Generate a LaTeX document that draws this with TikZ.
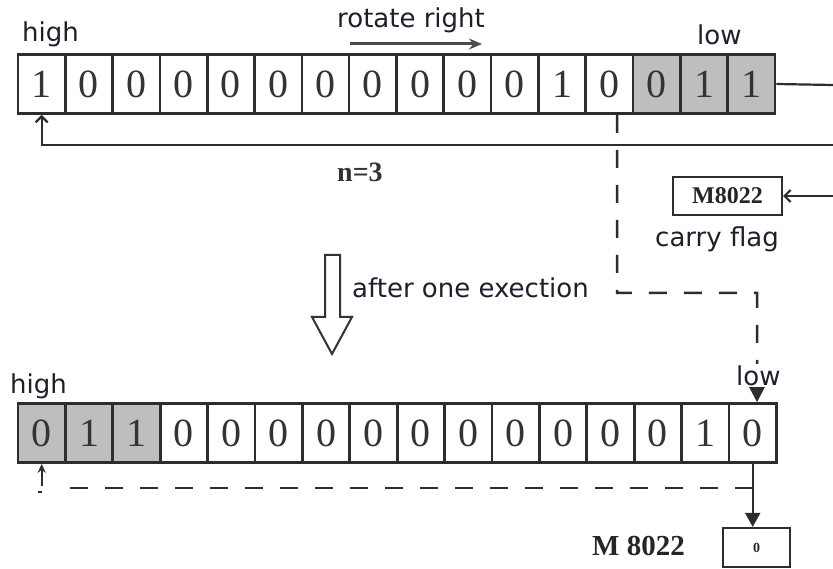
\documentclass[tikz,border=0pt]{standalone}
\usepackage{fontspec}
\setmainfont{Liberation Serif}
\newfontfamily\lblfont{DejaVu Sans}
\usetikzlibrary{arrows.meta,calc}
\definecolor{lblc}{RGB}{30,30,45}
\definecolor{linec}{RGB}{45,45,45}
\definecolor{grayc}{RGB}{190,190,190}
\begin{document}
\begin{tikzpicture}[x=1pt,y=-1pt,
  cell/.style={draw=linec, line width=2.6pt, minimum width=47.35pt, minimum height=59pt,
    inner sep=0pt, font=\fontsize{40}{40}\selectfont, text=black!80},
  lbl/.style={font=\lblfont\fontsize{26}{30}\selectfont, text=lblc, inner sep=0pt, anchor=base west},
  conn/.style={line width=2.2pt, draw=linec},
  dsh/.style={line width=2.5pt, draw=linec, dash pattern=on 18pt off 17pt},
  flagbox/.style={draw=linec, line width=2.2pt, inner sep=0pt, text=black!85},
]
\useasboundingbox (0,0) rectangle (833,569);

% top register
\foreach \d/\s [count=\i from 0] in {1/white,0/white,0/white,0/white,0/white,0/white,0/white,0/white,0/white,0/white,0/white,1/white,0/white,0/grayc,1/grayc,1/grayc}
  \node[cell, fill=\s] (t\i) at ({18+47.3125*(\i+0.5)},84) {\d};

% bottom register
\foreach \d/\s [count=\i from 0] in {0/grayc,1/grayc,1/grayc,0/white,0/white,0/white,0/white,0/white,0/white,0/white,0/white,0/white,0/white,0/white,1/white,0/white}
  \node[cell, fill=\s] (b\i) at ({18+47.4*(\i+0.5)},433) {\d};

% labels
\node[lbl] (hi1) at (22,42) {high};
\node[lbl] (rot) at (337,28) {rotate right};
\node[lbl] (lo1) at (697,45) {low};
\node[lbl] (hi2) at (10,393) {high};
\node[lbl] (cf) at (655,247) {carry flag};
\node[lbl] (aft) at (352,298) {after one exection};
\node[font=\bfseries\fontsize{28}{28}\selectfont, anchor=base west, inner sep=0pt, text=black!80] (n3) at (337,182) {n=3};
\node[font=\bfseries\fontsize{29}{29}\selectfont, anchor=base west, inner sep=0pt, text=black!85] (m2l) at (592,555) {M 8022};

% rotate right arrow
\coordinate (rr1) at (350,44);
\coordinate (rr2) at (482,44);
\draw[line width=3pt, draw=black!70, -{Stealth[length=13pt,width=11pt]}] (rr1) -- (rr2);

% flag boxes
\node[flagbox, minimum width=109pt, minimum height=38pt, font=\bfseries\fontsize{24}{24}\selectfont] (m1) at (727.5,196) {M8022};
\node[flagbox, minimum width=67pt, minimum height=39pt, font=\bfseries\fontsize{14}{14}\selectfont] (m2) at (756.5,547.5) {0};

% top connectors
\coordinate (re) at (833,85);
\draw[conn] (t15.east) -- (re);
\coordinate (fb) at (833,145);
\draw[conn, -{Straight Barb[length=6pt,width=12pt]}] (fb) -| (t0.south);
\coordinate (mr) at (833,196);
\draw[conn, -{Straight Barb[length=6pt,width=12pt]}] (mr) -- (m1.east);

% dashed path from bit to low end of result
\coordinate (d1) at (757,293);
\draw[dsh, -{Triangle[length=15pt,width=15pt]}] ([xshift=7.6pt]t12.south) |- (d1) -- ([xshift=4.3pt]b15.north);
\node[lbl, fill=white, inner sep=1pt] (lo2) at (735,385) {low};

% hollow arrow
\draw[line width=2pt, draw=black!80, fill=white] (325,255) -- (340,255) -- (340,317) -- (352,317) -- (332,354) -- (312,317) -- (325,317) -- cycle;

% bottom connectors
\draw[conn, -{Triangle[length=14pt,width=15pt]}] (b15.south) -- (b15.south |- m2.north);
\coordinate (bj) at (752.7,488);
\coordinate (bk) at (b0.south |- bj);
\draw[dsh] (bj) -- ([xshift=18pt]bk);
\draw[conn, -{Stealth[length=9pt,width=8pt]}] ([yshift=2pt]bk) -- (b0.south);
\draw[conn] ([xshift=-4pt,yshift=-4pt]bk) -- ([yshift=-4pt]bk);
\end{tikzpicture}
\end{document}
